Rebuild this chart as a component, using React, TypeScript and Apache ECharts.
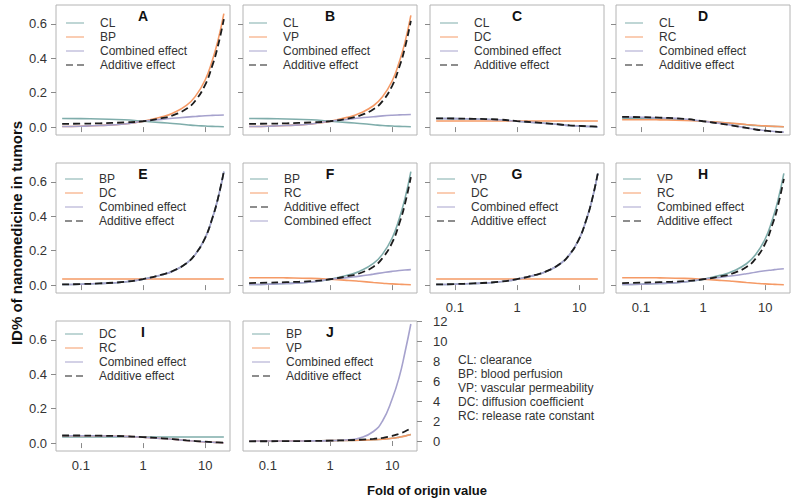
import React, { useEffect, useRef } from "react";
import * as echarts from "echarts";

// ---------- data ----------
const folds = [0.05, 0.1, 0.2, 0.5, 1, 2, 3, 5, 7, 10, 13, 16, 20];
const xTicks = [0.1, 1, 10];
const yTicks = [0, 0.2, 0.4, 0.6];
const yTicksRight = [0, 2, 4, 6, 8, 10, 12];

// single-factor curves
const CL = [0.05, 0.049, 0.047, 0.043, 0.034, 0.026, 0.021, 0.014, 0.009, 0.006, 0.004, 0.003, 0.002];
const BP = [0.003, 0.005, 0.009, 0.018, 0.034, 0.06, 0.081, 0.126, 0.18, 0.274, 0.386, 0.5, 0.66];
const VP = [0.003, 0.005, 0.009, 0.018, 0.034, 0.059, 0.08, 0.124, 0.176, 0.268, 0.378, 0.49, 0.65];
const DC = [0.035, 0.035, 0.035, 0.035, 0.035, 0.035, 0.035, 0.035, 0.035, 0.035, 0.035, 0.035, 0.035];
const RC = [0.043, 0.043, 0.042, 0.039, 0.034, 0.027, 0.022, 0.015, 0.011, 0.007, 0.005, 0.003, 0.002];

// combined effects
const combA = [0.003, 0.005, 0.009, 0.018, 0.034, 0.045, 0.051, 0.058, 0.062, 0.066, 0.068, 0.069, 0.07];
const combB = [0.003, 0.005, 0.009, 0.018, 0.034, 0.046, 0.053, 0.06, 0.065, 0.069, 0.071, 0.072, 0.073];
const combC = [0.05, 0.049, 0.047, 0.043, 0.034, 0.026, 0.021, 0.014, 0.009, 0.006, 0.004, 0.003, 0.002];
const combD = [0.058, 0.057, 0.054, 0.047, 0.034, 0.02, 0.01, -0.004, -0.013, -0.02, -0.024, -0.027, -0.029];
const combE = [0.003, 0.005, 0.009, 0.018, 0.034, 0.06, 0.081, 0.126, 0.18, 0.274, 0.386, 0.5, 0.66];
const combF = [0.003, 0.005, 0.009, 0.018, 0.034, 0.045, 0.052, 0.064, 0.072, 0.08, 0.085, 0.088, 0.09];
const combG = [0.003, 0.005, 0.009, 0.018, 0.034, 0.059, 0.08, 0.124, 0.176, 0.268, 0.378, 0.49, 0.65];
const combH = [0.003, 0.005, 0.009, 0.018, 0.034, 0.046, 0.054, 0.066, 0.075, 0.083, 0.088, 0.092, 0.095];
const combI = [0.043, 0.043, 0.042, 0.039, 0.034, 0.027, 0.022, 0.015, 0.011, 0.007, 0.005, 0.003, 0.002];
const combJ = [0.0, 0.0, 0.0, 0.01, 0.034, 0.12, 0.3, 0.95, 2.0, 4.2, 6.4, 8.8, 11.7];

// additive effects
const addA = [0.019, 0.02, 0.022, 0.027, 0.034, 0.052, 0.068, 0.106, 0.155, 0.246, 0.356, 0.469, 0.628];
const addB = [0.019, 0.02, 0.022, 0.027, 0.034, 0.051, 0.067, 0.104, 0.151, 0.24, 0.348, 0.459, 0.618];
const addC = [0.051, 0.05, 0.048, 0.044, 0.035, 0.027, 0.022, 0.015, 0.01, 0.007, 0.005, 0.004, 0.003];
const addD = [0.059, 0.058, 0.055, 0.048, 0.034, 0.019, 0.009, -0.005, -0.014, -0.021, -0.025, -0.028, -0.03];
const addE = [0.004, 0.006, 0.01, 0.019, 0.035, 0.061, 0.082, 0.127, 0.181, 0.275, 0.387, 0.501, 0.661];
const addF = [0.012, 0.014, 0.017, 0.023, 0.034, 0.053, 0.069, 0.107, 0.157, 0.247, 0.357, 0.469, 0.628];
const addG = [0.004, 0.006, 0.01, 0.019, 0.035, 0.06, 0.081, 0.125, 0.177, 0.269, 0.379, 0.491, 0.651];
const addH = [0.012, 0.014, 0.017, 0.023, 0.034, 0.052, 0.068, 0.105, 0.153, 0.241, 0.349, 0.459, 0.618];
const addI = [0.044, 0.044, 0.043, 0.04, 0.035, 0.028, 0.023, 0.016, 0.012, 0.008, 0.006, 0.004, 0.003];
const addJ = [-0.028, -0.024, -0.016, 0.002, 0.034, 0.085, 0.127, 0.216, 0.322, 0.508, 0.73, 0.956, 1.276];

const glossary = [
  "CL: clearance",
  "BP: blood perfusion",
  "VP: vascular permeability",
  "DC: diffusion coefficient",
  "RC: release rate constant",
];

// ---------- styling ----------
const TEAL = "#7fadab";
const ORANGE = "#f59a66";
const LAVENDER = "#a6a2cd";
const DASH = "#1c1c1c";
const FONT = "'Liberation Sans', Arial, Helvetica, sans-serif";
const SOLID_ICON = "path://M0,0H18V1H0Z";
const DASH_ICON = "path://M0,0H7V1H0Z M11,0H18V1H11Z";

type S = { label: string; data: number[]; kind: "a" | "b" | "comb" | "add" };

const panels: {
  id: string;
  row: number;
  col: number;
  dx: number;
  series: S[];
  xLabels: boolean;
  right?: boolean;
}[] = [
  { id: "A", row: 0, col: 0, dx: 10, xLabels: false, series: [
    { label: "CL", data: CL, kind: "a" }, { label: "BP", data: BP, kind: "b" },
    { label: "Combined effect", data: combA, kind: "comb" }, { label: "Additive effect", data: addA, kind: "add" }] },
  { id: "B", row: 0, col: 1, dx: 6, xLabels: false, series: [
    { label: "CL", data: CL, kind: "a" }, { label: "VP", data: VP, kind: "b" },
    { label: "Combined effect", data: combB, kind: "comb" }, { label: "Additive effect", data: addB, kind: "add" }] },
  { id: "C", row: 0, col: 2, dx: 10, xLabels: false, series: [
    { label: "CL", data: CL, kind: "a" }, { label: "DC", data: DC, kind: "b" },
    { label: "Combined effect", data: combC, kind: "comb" }, { label: "Additive effect", data: addC, kind: "add" }] },
  { id: "D", row: 0, col: 3, dx: 9, xLabels: false, series: [
    { label: "CL", data: CL, kind: "a" }, { label: "RC", data: RC, kind: "b" },
    { label: "Combined effect", data: combD, kind: "comb" }, { label: "Additive effect", data: addD, kind: "add" }] },
  { id: "E", row: 1, col: 0, dx: 9, xLabels: false, series: [
    { label: "BP", data: BP, kind: "a" }, { label: "DC", data: DC, kind: "b" },
    { label: "Combined effect", data: combE, kind: "comb" }, { label: "Additive effect", data: addE, kind: "add" }] },
  { id: "F", row: 1, col: 1, dx: 7, xLabels: false, series: [
    { label: "BP", data: BP, kind: "a" }, { label: "RC", data: RC, kind: "b" },
    { label: "Additive effect", data: addF, kind: "add" }, { label: "Combined effect", data: combF, kind: "comb" }] },
  { id: "G", row: 1, col: 2, dx: 7, xLabels: true, series: [
    { label: "VP", data: VP, kind: "a" }, { label: "DC", data: DC, kind: "b" },
    { label: "Combined effect", data: combG, kind: "comb" }, { label: "Additive effect", data: addG, kind: "add" }] },
  { id: "H", row: 1, col: 3, dx: 7, xLabels: true, series: [
    { label: "VP", data: VP, kind: "a" }, { label: "RC", data: RC, kind: "b" },
    { label: "Combined effect", data: combH, kind: "comb" }, { label: "Additive effect", data: addH, kind: "add" }] },
  { id: "I", row: 2, col: 0, dx: 9, xLabels: true, series: [
    { label: "DC", data: DC, kind: "a" }, { label: "RC", data: RC, kind: "b" },
    { label: "Combined effect", data: combI, kind: "comb" }, { label: "Additive effect", data: addI, kind: "add" }] },
  { id: "J", row: 2, col: 1, dx: 9, xLabels: true, right: true, series: [
    { label: "BP", data: BP, kind: "a" }, { label: "VP", data: VP, kind: "b" },
    { label: "Combined effect", data: combJ, kind: "comb" }, { label: "Additive effect", data: addJ, kind: "add" }] },
];

const COL_LEFT = [56, 243, 430, 616];
const ROW_TOP = [5, 163, 321];
const LEGEND_FIRST = [23, 179, 334];
const PW = 174;
const PH = 130;

const colorOf = (k: S["kind"]) =>
  k === "a" ? TEAL : k === "b" ? ORANGE : k === "comb" ? LAVENDER : DASH;

function buildOption() {
  const grid: any[] = [];
  const xAxis: any[] = [];
  const yAxis: any[] = [];
  const series: any[] = [];
  const legend: any[] = [];
  const graphic: any[] = [];

  panels.forEach((p, i) => {
    const left = COL_LEFT[p.col];
    const top = ROW_TOP[p.row];
    grid.push({ left, top, width: PW, height: PH, show: true, borderColor: "#b4b4b4", borderWidth: 1, backgroundColor: "transparent" });
    xAxis.push({
      type: "log",
      logBase: 10,
      gridIndex: i,
      min: Math.pow(10, -1.4),
      max: Math.pow(10, 1.4),
      axisLine: { show: false },
      splitLine: { show: false },
      axisTick: { show: true, length: 5, inside: false, lineStyle: { color: "#8a8a8a" }, customValues: xTicks },
      axisLabel: { show: p.xLabels, customValues: xTicks, margin: 8, fontSize: 13, color: "#333", fontFamily: FONT },
    });
    if (p.right) {
      yAxis.push({
        type: "value",
        gridIndex: i,
        position: "right",
        min: -1,
        max: 12,
        axisLine: { show: false },
        splitLine: { show: false },
        axisTick: { show: true, length: 5, inside: false, lineStyle: { color: "#8a8a8a" }, customValues: yTicksRight },
        axisLabel: { show: true, customValues: yTicksRight, margin: 16, fontSize: 13, color: "#333", fontFamily: FONT },
      });
    } else {
      yAxis.push({
        type: "value",
        gridIndex: i,
        min: -0.046,
        max: 0.71,
        axisLine: { show: false },
        splitLine: { show: false },
        axisTick: { show: true, length: 5, inside: false, lineStyle: { color: "#8a8a8a" }, customValues: yTicks },
        axisLabel: {
          show: p.col === 0,
          customValues: yTicks,
          margin: 9,
          fontSize: 13,
          color: "#333",
          fontFamily: FONT,
          formatter: (v: number) => v.toFixed(1),
        },
      });
    }
    const items: any[] = [];
    p.series.forEach((s) => {
      const name = `${p.id}:${s.label}`;
      const c = colorOf(s.kind);
      items.push({ name, icon: s.kind === "add" ? DASH_ICON : SOLID_ICON, itemStyle: { color: c, borderWidth: 0, opacity: 1 } });
      series.push({
        type: "line",
        name,
        xAxisIndex: i,
        yAxisIndex: i,
        data: folds.map((f, k) => [f, s.data[k]]),
        symbol: "none",
        showSymbol: false,
        smooth: 0.5,
        silent: true,
        z: s.kind === "add" ? 4 : s.kind === "comb" ? 3 : 2,
        itemStyle: { color: c },
        lineStyle: s.kind === "add"
          ? { color: c, width: 1.8, type: [7, 4] }
          : { color: c, width: 1.6 },
        emphasis: { disabled: true },
      });
    });
    legend.push({
      data: items,
      left: left + p.dx,
      top: LEGEND_FIRST[p.row] - 7,
      orient: "vertical",
      padding: 0,
      itemGap: 0,
      itemWidth: 18,
      itemHeight: 2,
      selectedMode: false,
      itemStyle: { borderWidth: 0 },
      formatter: (n: string) => n.split(":")[1],
      textStyle: { fontSize: 12, color: "#333", lineHeight: 14, fontFamily: FONT, padding: [0, 0, 0, 11] },
    });
    graphic.push({
      type: "text",
      x: left + PW / 2,
      y: top + 10.5,
      style: { text: p.id, font: `bold 14px ${FONT}`, fill: "#111", align: "center", verticalAlign: "middle" },
    });
  });

  graphic.push({
    type: "text",
    x: 16,
    y: 233,
    rotation: Math.PI / 2,
    style: { text: "ID% of nanomedicine in tumors", font: `bold 15px ${FONT}`, fill: "#111", align: "center", verticalAlign: "middle" },
  });
  graphic.push({
    type: "text",
    x: 427,
    y: 490,
    style: { text: "Fold of origin value", font: `bold 13px ${FONT}`, fill: "#111", align: "center", verticalAlign: "middle" },
  });
  glossary.forEach((t, k) => {
    graphic.push({
      type: "text",
      x: 458,
      y: 360 + k * 14,
      style: { text: t, font: `12px ${FONT}`, fill: "#333", align: "left", verticalAlign: "middle" },
    });
  });

  return { animation: false, backgroundColor: "#fff", grid, xAxis, yAxis, series, legend, graphic };
}

export default function App() {
  const ref = useRef<HTMLDivElement>(null);
  useEffect(() => {
    if (!ref.current) return;
    const chart = echarts.init(ref.current, undefined, { renderer: "svg" });
    chart.setOption(buildOption() as any);
    return () => chart.dispose();
  }, []);
  return <div ref={ref} style={{ width: 800, height: 502, position: "absolute", left: 0, top: 0 }} />;
}
